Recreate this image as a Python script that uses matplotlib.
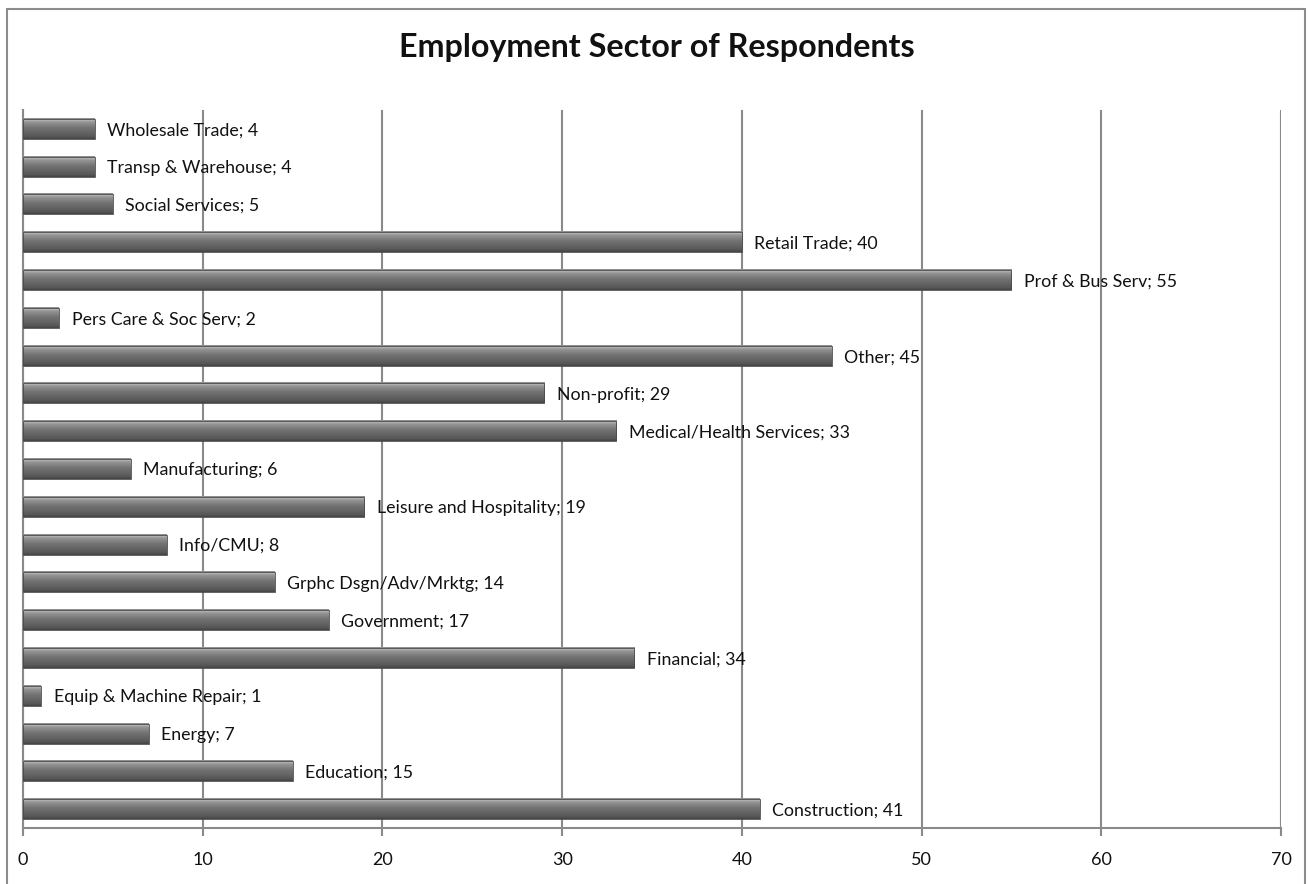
import numpy as np
import matplotlib.pyplot as plt
from matplotlib.colors import LinearSegmentedColormap
from matplotlib.patches import Rectangle

plt.rcParams['font.family'] = ['Lato', 'DejaVu Sans']

sectors = ['Construction', 'Education', 'Energy', 'Equip & Machine Repair', 'Financial',
           'Government', 'Grphc Dsgn/Adv/Mrktg', 'Info/CMU', 'Leisure and Hospitality',
           'Manufacturing', 'Medical/Health Services', 'Non-profit', 'Other',
           'Pers Care & Soc Serv', 'Prof & Bus Serv', 'Retail Trade', 'Social Services',
           'Transp & Warehouse', 'Wholesale Trade']
counts = [41, 15, 7, 1, 34, 17, 14, 8, 19, 6, 33, 29, 45, 2, 55, 40, 5, 4, 4]
xticks = [0, 10, 20, 30, 40, 50, 60, 70]

fig = plt.figure(figsize=(13.08, 8.84), dpi=100)
# outer chart frame
fig.patches.append(Rectangle((7 / 1308, -0.05), 1298 / 1308, 1.05 - 9 / 884,
                             transform=fig.transFigure, fill=False,
                             edgecolor='#8c8c8c', linewidth=1.5))
ax = fig.add_axes([23 / 1308, 56 / 884, 1258 / 1308, 718 / 884])

grad = LinearSegmentedColormap.from_list('bev', [
    (0.0, '#444444'), (0.12, '#585858'), (0.55, '#747474'),
    (0.82, '#969696'), (0.93, '#bdbdbd'), (1.0, '#828282')])
g = np.linspace(0, 1, 64).reshape(-1, 1)

h = 0.53
ypos = np.arange(len(sectors))
for y, v, name in zip(ypos, counts, sectors):
    ax.imshow(g, extent=[0, v, y - h / 2, y + h / 2], origin='lower',
              cmap=grad, aspect='auto', zorder=3, interpolation='bilinear')
    ax.text(v + 0.7, y, f'{name}; {v}', va='center_baseline', ha='left',
            fontsize=12.8, color='#111111', zorder=4)
ax.barh(ypos, counts, height=h, facecolor='none', edgecolor='#4a4a4a',
        linewidth=0.6, zorder=3)

ax.set_xlim(0, 70)
ax.set_ylim(-0.5, len(sectors) - 0.5)
ax.set_aspect('auto')
ax.set_xticks(xticks)
ax.set_yticks([])
ax.xaxis.grid(True, color='#8a8a8a', linewidth=1.5)
ax.set_axisbelow(True)
for s in ['top', 'right']:
    ax.spines[s].set_visible(False)
for s in ['left', 'bottom']:
    ax.spines[s].set_color('#8a8a8a')
    ax.spines[s].set_linewidth(1.5)
ax.tick_params(axis='x', length=6, width=1.5, color='#8a8a8a', labelsize=13,
               pad=11, labelcolor='#111111')

fig.text(657 / 1308, 1 - 47 / 884, 'Employment Sector of Respondents',
         ha='center', va='center', fontsize=23.2, fontweight='bold', color='#111111')

fig.savefig('out.png', dpi=100)
